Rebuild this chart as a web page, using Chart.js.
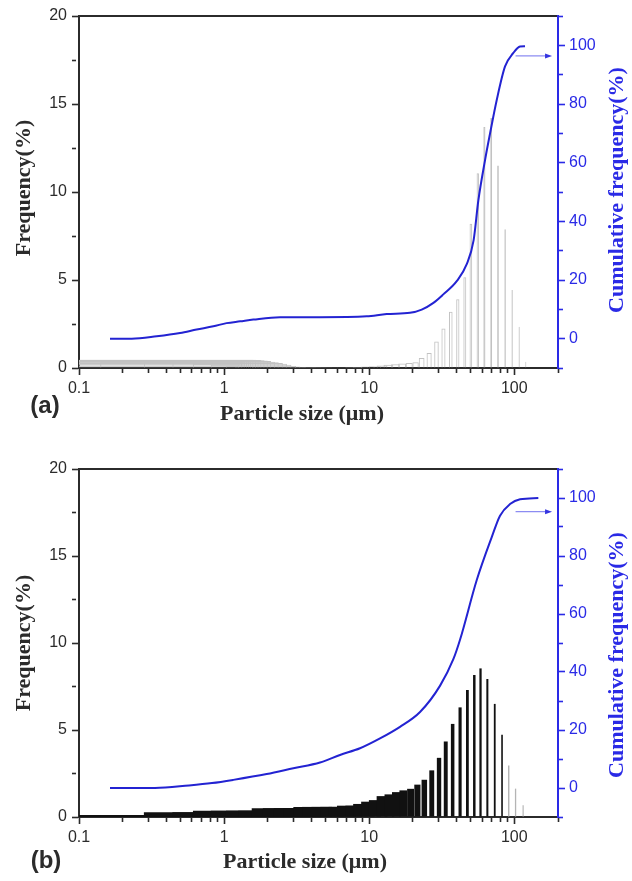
<!DOCTYPE html>
<html>
<head>
<meta charset="utf-8">
<script src="https://cdn.jsdelivr.net/npm/chart.js@4.4.1/dist/chart.umd.min.js"></script>
<style>
  html, body { margin: 0; padding: 0; background: #fff; }
  .panel { position: absolute; left: 0; width: 632px; }
  #wrapA { top: 0; height: 440px; }
  #wrapB { top: 440px; height: 441px; }
</style>
</head>
<body>
<div class="panel" id="wrapA"><canvas id="chartA"></canvas></div>
<div class="panel" id="wrapB"><canvas id="chartB"></canvas></div>
<script>
// particle size classes (um) and frequency (%)
var sizesA = [0.16, 0.179, 0.2, 0.223, 0.25, 0.279, 0.312, 0.349, 0.39, 0.436,
	0.487, 0.545, 0.61, 0.68, 0.76, 0.85, 0.95, 1.06, 1.19, 1.33,
	1.49, 1.66, 1.86, 2.08, 2.3, 2.6, 2.9, 3.25, 3.6, 4.05,
	4.5, 5.05, 5.65, 6.3, 7.05, 7.9, 8.8, 9.85, 11.0, 12.3,
	13.6, 15.2, 16.9, 18.9, 20.9, 23.0, 25.9, 29.1, 32.5, 36.5,
	40.8, 45.6, 50.2, 56.0, 62.2, 69.3, 77.2, 86.4, 96.6, 108, 120];
var freqA = [0.05, 0.08, 0.12, 0.2, 0.24, 0.28, 0.33, 0.36, 0.4, 0.43,
	0.45, 0.47, 0.47, 0.46, 0.45, 0.44, 0.42, 0.4, 0.36, 0.33,
	0.28, 0.24, 0.18, 0.12, 0.08, 0.05, 0.03, 0.02, 0.02, 0.02,
	0.02, 0.02, 0.03, 0.03, 0.04, 0.05, 0.06, 0.08, 0.1, 0.14,
	0.18, 0.22, 0.26, 0.28, 0.32, 0.57, 0.85, 1.5, 2.25, 3.2,
	3.9, 5.15, 8.2, 11.06, 13.7, 14.2, 11.5, 7.88, 4.43, 2.35, 0.36];
var cumSizesA = [0.1635, 0.231, 0.343, 0.497, 0.647, 0.843, 1.04, 1.29, 1.59, 2.43,
	4.58, 9.61, 13.2, 19.1, 23.0, 27.7, 32.4, 40.1, 47.0, 52.4,
	56.5, 62.8, 68.0, 75.6, 86.3, 98.4, 109.5, 118.5];
var cumA = [0, 0, 0.8, 1.9, 3.1, 4.2, 5.3, 5.9, 6.5, 7.3,
	7.3, 7.6, 8.4, 8.8, 9.9, 12.2, 15.1, 19.6, 25.4, 33.5,
	47.1, 60.8, 69.9, 81.3, 92.8, 97.4, 99.6, 99.7];

var sizesB = [0.16, 0.179, 0.2, 0.223, 0.25, 0.279, 0.312, 0.349, 0.39, 0.436,
	0.487, 0.545, 0.61, 0.68, 0.76, 0.85, 0.95, 1.06, 1.19, 1.33,
	1.49, 1.66, 1.86, 2.08, 2.3, 2.6, 2.9, 3.25, 3.6, 4.05,
	4.5, 5.05, 5.65, 6.3, 7.05, 7.9, 8.8, 9.85, 11.0, 12.3,
	13.8, 15.4, 17.2, 19.3, 21.5, 24.0, 27.0, 30.3, 33.7, 37.6,
	42.3, 47.5, 53.0, 58.5, 65.2, 73.3, 82.3, 91.5, 102, 115];
var freqB = [0.09, 0.09, 0.1, 0.1, 0.1, 0.11, 0.11, 0.11, 0.11, 0.12,
	0.12, 0.12, 0.12, 0.12, 0.12, 0.12, 0.12, 0.12, 0.12, 0.28,
	0.28, 0.36, 0.36, 0.36, 0.36, 0.5, 0.5, 0.5, 0.5, 0.58,
	0.58, 0.58, 0.58, 0.58, 0.65, 0.65, 0.75, 0.88, 0.97, 1.2,
	1.3, 1.43, 1.53, 1.62, 1.86, 2.14, 2.68, 3.4, 4.34, 5.35,
	6.3, 7.3, 8.16, 8.54, 7.93, 6.5, 4.72, 2.96, 1.63, 0.67];
var cumSizesB = [0.1635, 0.334, 0.573, 0.825, 1.157, 1.966, 3.0, 4.58, 6.29, 8.64,
	11.87, 16.3, 22.4, 30.8, 38.0, 42.3, 55.1, 69.9, 79.7, 93.4, 109.5, 146.4];
var cumB = [0, 0, 0.9, 1.7, 2.8, 4.8, 6.8, 8.8, 11.4, 13.7,
	17.1, 21.1, 26.2, 35.3, 44.4, 51.2, 71.7, 86.5, 93.9, 97.9, 99.6, 100];

var xMajor = [0.1, 1, 10, 100];
var xMinor = [0.2, 0.3, 0.4, 0.5, 0.6, 0.7, 0.8, 0.9, 2, 3, 4, 5, 6, 7, 8, 9,
	20, 30, 40, 50, 60, 70, 80, 90, 200];
var freqLabels = [0, 5, 10, 15, 20];
var cumLabels = [0, 20, 40, 60, 80, 100];

var INK = '#2b2b2b';
var BLUE = '#2a2ae6';
var BLUE_LINE = '#2323d2';
var SERIF = 'bold 22px "Liberation Serif", "Times New Roman", serif';
var SANS_BOLD = 'bold 24px "Liberation Sans", Arial, sans-serif';
var BAR_WIDTH_UM = 2.1;

Chart.defaults.font.family = '"Liberation Sans", Arial, sans-serif';
Chart.defaults.font.size = 16;

function points(xs, ys) {
	return xs.map(function(x, i) { return {x: x, y: ys[i]}; });
}

// bars keep a constant width in um, so on the log axis they get narrower to the right
var linearWidthBars = {
	id: 'linearWidthBars',
	afterDatasetsUpdate: function(chart, args, opts) {
		var xs = chart.scales.x, area = chart.chartArea;
		chart.data.datasets.forEach(function(ds, i) {
			if (ds.type !== 'bar') return;
			chart.getDatasetMeta(i).data.forEach(function(bar, j) {
				var c = ds.data[j].x;
				var lo = c - opts.width / 2, hi = c + opts.width / 2;
				var pl = lo > 0 ? xs.getPixelForValue(lo) : area.left - 20;
				var pr = xs.getPixelForValue(hi);
				bar.x = (pl + pr) / 2;
				bar.width = pr - pl;
			});
		});
	}
};

var axisArrow = {
	id: 'axisArrow',
	afterDatasetsDraw: function(chart, args, opts) {
		var ctx = chart.ctx;
		var x0 = chart.scales.x.getPixelForValue(opts.from);
		var x1 = chart.scales.x.getPixelForValue(opts.to);
		var y = chart.scales.yR.getPixelForValue(opts.y);
		ctx.save();
		ctx.strokeStyle = '#8c8cf2';
		ctx.lineWidth = 1.2;
		ctx.beginPath();
		ctx.moveTo(x0, y);
		ctx.lineTo(x1 - 4, y);
		ctx.stroke();
		ctx.fillStyle = '#3434e0';
		ctx.beginPath();
		ctx.moveTo(x1, y);
		ctx.lineTo(x1 - 7, y - 2.5);
		ctx.lineTo(x1 - 7, y + 2.5);
		ctx.closePath();
		ctx.fill();
		ctx.restore();
	}
};

var panelText = {
	id: 'panelText',
	afterDraw: function(chart, args, opts) {
		var ctx = chart.ctx;
		opts.items.forEach(function(t) {
			ctx.save();
			ctx.font = t.font;
			ctx.fillStyle = t.color;
			ctx.textAlign = 'center';
			ctx.textBaseline = 'middle';
			ctx.translate(t.x, t.y);
			if (t.rot) ctx.rotate(t.rot * Math.PI / 180);
			ctx.fillText(t.text, 0, 0);
			ctx.restore();
		});
	}
};

function tickDash(labels) {
	return function(ctx) {
		return labels.indexOf(ctx.tick.value) >= 0 ? [] : [4, 40];
	};
}

function makePanel(id, o) {
	return new Chart(document.getElementById(id), {
		type: 'bar',
		data: {
			datasets: [{
				type: 'line',
				data: points(o.cumSizes, o.cum),
				yAxisID: 'yR',
				borderColor: BLUE_LINE,
				borderWidth: 2,
				pointRadius: 0,
				cubicInterpolationMode: 'monotone',
				fill: false,
				order: 0
			}, {
				type: 'bar',
				data: points(o.sizes, o.freq),
				yAxisID: 'y',
				backgroundColor: function(ctx) {
					return ctx.raw && ctx.raw.x > o.fadeFrom ? o.barFade : o.barFill;
				},
				borderColor: o.barEdge,
				borderWidth: o.barBorder,
				borderSkipped: 'bottom',
				inflateAmount: o.barBorder ? 0 : 'auto',
				grouped: false,
				order: 1
			}]
		},
		plugins: [linearWidthBars, axisArrow, panelText],
		options: {
			responsive: true,
			maintainAspectRatio: false,
			animation: false,
			events: [],
			layout: { padding: { top: o.top, left: 0, right: 0, bottom: 0 } },
			plugins: {
				legend: { display: false },
				tooltip: { enabled: false },
				linearWidthBars: { width: BAR_WIDTH_UM },
				axisArrow: { from: 102, to: 182, y: o.arrowY },
				panelText: { items: o.texts }
			},
			scales: {
				x: {
					type: 'logarithmic',
					position: 'bottom',
					min: 0.1,
					max: 200,
					offset: false,
					afterFit: function(s) { s.height = o.xHeight; },
					afterBuildTicks: function(s) {
						s.ticks = xMajor.concat(xMinor).sort(function(a, b) { return a - b; })
							.map(function(v) { return {value: v, major: xMajor.indexOf(v) >= 0}; });
					},
					ticks: {
						autoSkip: false,
						maxRotation: 0,
						padding: 4,
						color: INK,
						callback: function(v) { return xMajor.indexOf(v) >= 0 ? String(v) : ''; }
					},
					grid: {
						drawOnChartArea: false,
						offset: false,
						tickLength: 7,
						tickWidth: 1.6,
						tickColor: INK,
						tickBorderDash: tickDash(xMajor)
					},
					border: { color: INK, width: 2 }
				},
				xTop: {
					type: 'linear',
					position: 'top',
					min: 0,
					max: 1,
					afterFit: function(s) { s.height = 0; },
					ticks: { display: false },
					grid: { display: false },
					border: { color: INK, width: 2 }
				},
				y: {
					position: 'left',
					min: 0,
					max: 20,
					afterFit: function(s) { s.width = 79; },
					ticks: {
						stepSize: 2.5,
						autoSkip: false,
						padding: 5,
						color: INK,
						callback: function(v) { return freqLabels.indexOf(v) >= 0 ? v : ''; }
					},
					grid: {
						drawOnChartArea: false,
						tickLength: 7,
						tickWidth: 1.6,
						tickColor: INK,
						tickBorderDash: tickDash(freqLabels)
					},
					border: { color: INK, width: 2 }
				},
				yR: {
					position: 'right',
					min: -10,
					max: 110,
					afterFit: function(s) { s.width = 74; },
					ticks: {
						stepSize: 10,
						autoSkip: false,
						padding: 4,
						color: BLUE,
						callback: function(v) { return cumLabels.indexOf(v) >= 0 ? v : ''; }
					},
					grid: {
						drawOnChartArea: false,
						tickLength: 7,
						tickWidth: 1.6,
						tickColor: BLUE,
						tickBorderDash: tickDash(cumLabels)
					},
					border: { color: BLUE, width: 2 }
				}
			}
		}
	});
}

var chartA = makePanel('chartA', {
	sizes: sizesA, freq: freqA, cumSizes: cumSizesA, cum: cumA,
	barFill: 'rgba(255,255,255,0)', barFade: 'rgba(255,255,255,0)', fadeFrom: 1000,
	barEdge: '#c2c2c2', barBorder: 1,
	top: 16, xHeight: 72, arrowY: 96.4,
	texts: [
		{text: 'Frequency(%)', x: 24, y: 188, rot: -90, font: SERIF, color: INK},
		{text: 'Cumulative frequency(%)', x: 617, y: 190, rot: -90, font: SERIF, color: BLUE},
		{text: 'Particle size (\u03bcm)', x: 302, y: 414, font: SERIF, color: INK},
		{text: '(a)', x: 45, y: 406, font: SANS_BOLD, color: INK}
	]
});

var chartB = makePanel('chartB', {
	sizes: sizesB, freq: freqB, cumSizes: cumSizesB, cum: cumB,
	barFill: '#111111', barFade: '#b4b4b4', fadeFrom: 88,
	barEdge: '#111111', barBorder: 0,
	top: 29, xHeight: 64, arrowY: 95.3,
	texts: [
		{text: 'Frequency(%)', x: 24, y: 203, rot: -90, font: SERIF, color: INK},
		{text: 'Cumulative frequency(%)', x: 617, y: 215, rot: -90, font: SERIF, color: BLUE},
		{text: 'Particle size (\u03bcm)', x: 305, y: 422, font: SERIF, color: INK},
		{text: '(b)', x: 46, y: 421, font: SANS_BOLD, color: INK}
	]
});
</script>
</body>
</html>
